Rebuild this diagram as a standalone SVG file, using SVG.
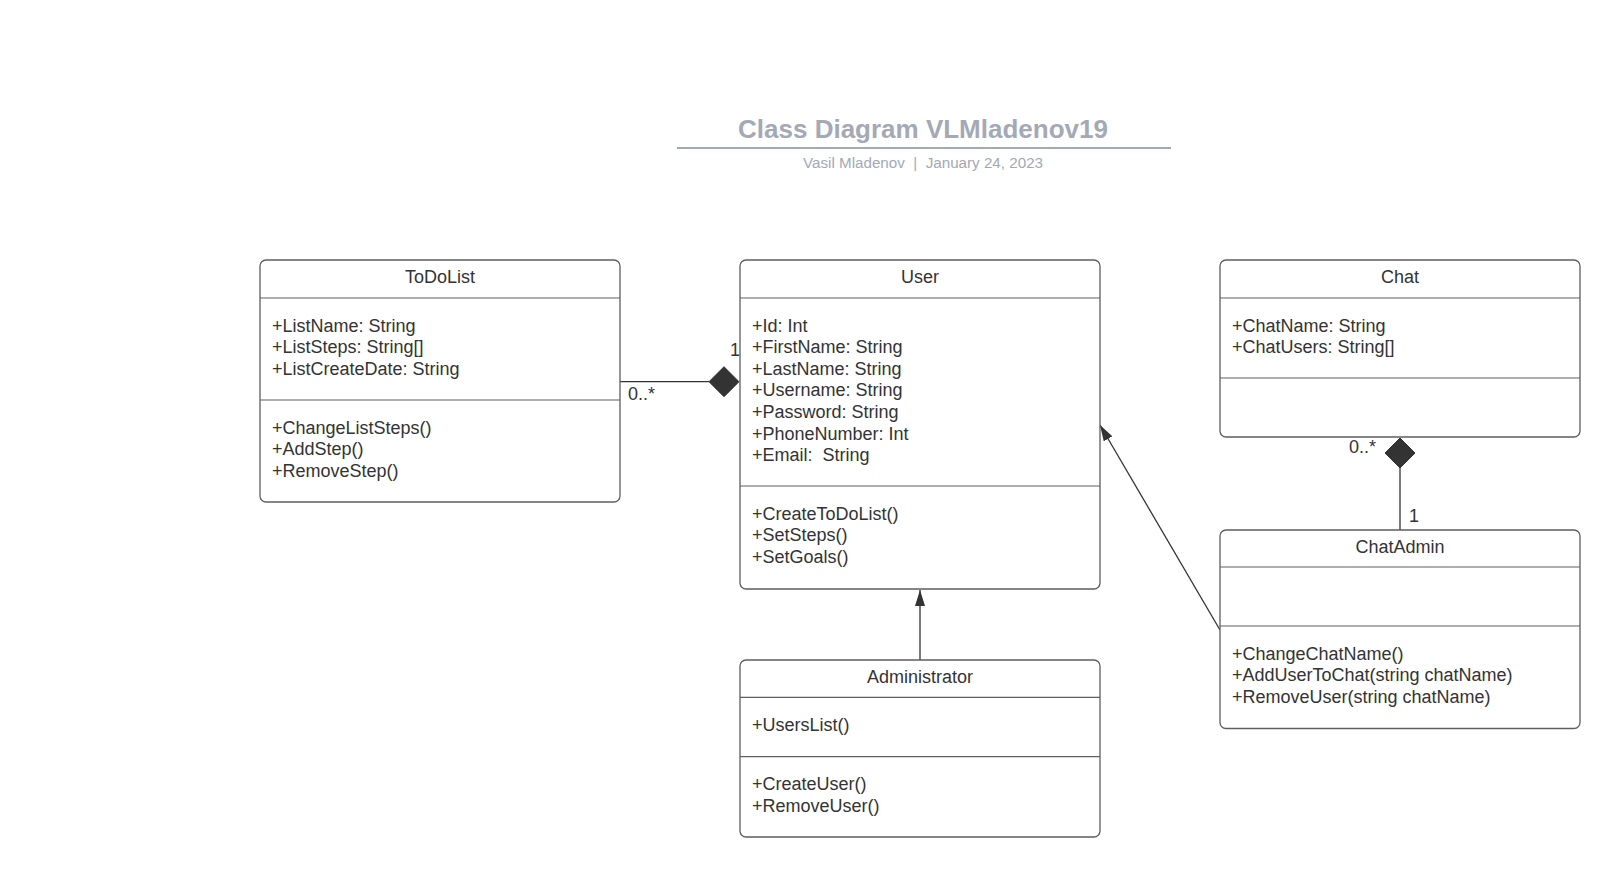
<svg xmlns="http://www.w3.org/2000/svg" width="1620" height="877" viewBox="0 0 1620 877">
  <style>
    .box { fill: #ffffff; stroke: #5e5e5e; stroke-width: 1.3; }
    .sep { stroke: #5e5e5e; stroke-width: 1.2; }
    .txt { font-family: "Liberation Sans", Arial, sans-serif; font-size: 18px; fill: #333333; }
    .hdr { text-anchor: middle; }
    .edge { stroke: #333333; stroke-width: 1.3; fill: none; }
    .diamond { fill: #333333; stroke: #333333; stroke-width: 1; }
    .title { font-family: "Liberation Sans", Arial, sans-serif; font-size: 26px; font-weight: bold; fill: #a3a9b5; text-anchor: middle; }
    .sub { font-family: "Liberation Sans", Arial, sans-serif; font-size: 15.2px; fill: #a3a9b5; text-anchor: middle; }
  </style>
  <defs>
    <marker id="tri" markerUnits="userSpaceOnUse" markerWidth="16" markerHeight="10" refX="16" refY="5" orient="auto">
      <path d="M0,0 L16,5 L0,10 z" fill="#333333"/>
    </marker>
  </defs>

  <rect width="1620" height="877" fill="#ffffff"/>

  <!-- title block -->
  <g id="title">
    <text class="title" x="923" y="138">Class Diagram VLMladenov19</text>
    <line x1="677" y1="148" x2="1171" y2="148" stroke="#a3a9b5" stroke-width="2"/>
    <text class="sub" x="923" y="168" xml:space="preserve">Vasil Mladenov  |  January 24, 2023</text>
  </g>

  <!-- connectors -->
  <g id="connectors">
    <!-- ToDoList composed into User -->
    <line class="edge" x1="620" y1="381.7" x2="709" y2="381.7"/>
    <polygon class="diamond" points="709,381.7 724,366.7 739,381.7 724,396.7"/>
    <text class="txt" x="730" y="356">1</text>
    <text class="txt" x="628" y="400">0..*</text>

    <!-- ChatAdmin composed into Chat -->
    <polygon class="diamond" points="1400,438 1415,453 1400,468 1385,453"/>
    <line class="edge" x1="1400" y1="468" x2="1400" y2="530"/>
    <text class="txt" x="1349" y="453">0..*</text>
    <text class="txt" x="1409" y="522">1</text>

    <!-- Administrator generalizes User -->
    <line class="edge" x1="920" y1="660" x2="920" y2="590" marker-end="url(#tri)"/>

    <!-- ChatAdmin generalizes User -->
    <line class="edge" x1="1220" y1="630" x2="1100" y2="425" marker-end="url(#tri)"/>
  </g>

  <!-- ToDoList -->
  <g id="todolist">
    <rect class="box" x="260" y="260" width="360" height="242" rx="6"/>
    <line class="sep" x1="260" y1="298" x2="620" y2="298"/>
    <line class="sep" x1="260" y1="400" x2="620" y2="400"/>
    <text class="txt hdr" x="440" y="283">ToDoList</text>
    <text class="txt" x="272" y="331.5">+ListName: String</text>
    <text class="txt" x="272" y="353.1">+ListSteps: String[]</text>
    <text class="txt" x="272" y="374.7">+ListCreateDate: String</text>
    <text class="txt" x="272" y="433.5">+ChangeListSteps()</text>
    <text class="txt" x="272" y="455.1">+AddStep()</text>
    <text class="txt" x="272" y="476.7">+RemoveStep()</text>
  </g>

  <!-- User -->
  <g id="user">
    <rect class="box" x="740" y="260" width="360" height="329" rx="6"/>
    <line class="sep" x1="740" y1="298" x2="1100" y2="298"/>
    <line class="sep" x1="740" y1="486" x2="1100" y2="486"/>
    <text class="txt hdr" x="920" y="283">User</text>
    <text class="txt" x="752" y="331.5">+Id: Int</text>
    <text class="txt" x="752" y="353.1">+FirstName: String</text>
    <text class="txt" x="752" y="374.7">+LastName: String</text>
    <text class="txt" x="752" y="396.3">+Username: String</text>
    <text class="txt" x="752" y="417.9">+Password: String</text>
    <text class="txt" x="752" y="439.5">+PhoneNumber: Int</text>
    <text class="txt" x="752" y="461.1" xml:space="preserve">+Email:  String</text>
    <text class="txt" x="752" y="519.5">+CreateToDoList()</text>
    <text class="txt" x="752" y="541.1">+SetSteps()</text>
    <text class="txt" x="752" y="562.7">+SetGoals()</text>
  </g>

  <!-- Chat -->
  <g id="chat">
    <rect class="box" x="1220" y="260" width="360" height="177" rx="6"/>
    <line class="sep" x1="1220" y1="298" x2="1580" y2="298"/>
    <line class="sep" x1="1220" y1="378" x2="1580" y2="378"/>
    <text class="txt hdr" x="1400" y="283">Chat</text>
    <text class="txt" x="1232" y="331.5">+ChatName: String</text>
    <text class="txt" x="1232" y="353.1">+ChatUsers: String[]</text>
  </g>

  <!-- ChatAdmin -->
  <g id="chatadmin">
    <rect class="box" x="1220" y="530" width="360" height="198.5" rx="6"/>
    <line class="sep" x1="1220" y1="567" x2="1580" y2="567"/>
    <line class="sep" x1="1220" y1="626" x2="1580" y2="626"/>
    <text class="txt hdr" x="1400" y="553">ChatAdmin</text>
    <text class="txt" x="1232" y="659.5">+ChangeChatName()</text>
    <text class="txt" x="1232" y="681.1">+AddUserToChat(string chatName)</text>
    <text class="txt" x="1232" y="702.7">+RemoveUser(string chatName)</text>
  </g>

  <!-- Administrator -->
  <g id="administrator">
    <rect class="box" x="740" y="660" width="360" height="177" rx="6"/>
    <line class="sep" x1="740" y1="697.3" x2="1100" y2="697.3"/>
    <line class="sep" x1="740" y1="756.7" x2="1100" y2="756.7"/>
    <text class="txt hdr" x="920" y="683">Administrator</text>
    <text class="txt" x="752" y="731">+UsersList()</text>
    <text class="txt" x="752" y="790.2">+CreateUser()</text>
    <text class="txt" x="752" y="811.8">+RemoveUser()</text>
  </g>
</svg>
